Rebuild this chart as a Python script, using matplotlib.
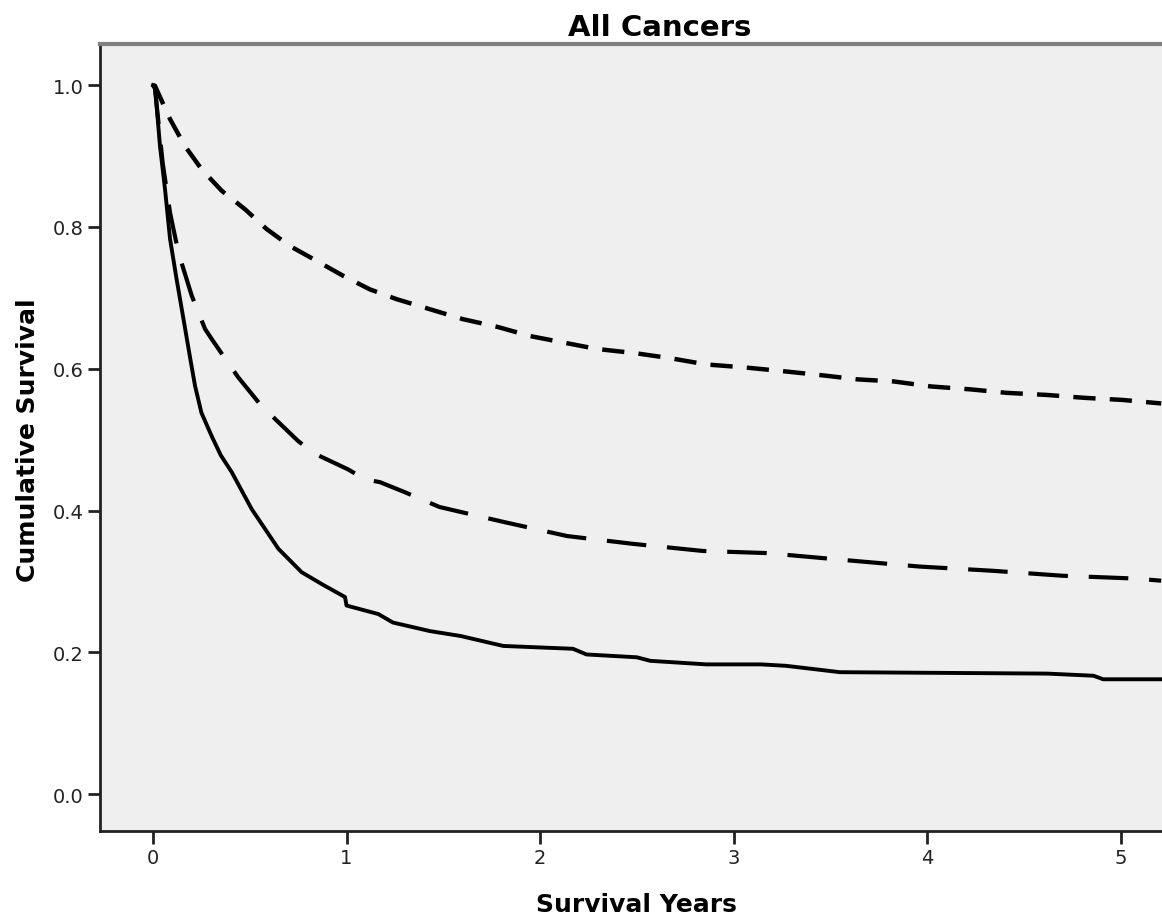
import matplotlib.pyplot as plt

# survival curves (years, cumulative survival)
upper_x = [0.0, 0.01, 0.088, 0.165, 0.252, 0.355, 0.475, 0.587, 0.708, 0.846, 0.983, 1.12, 1.26,
           1.43, 1.60, 1.78, 1.95, 2.12, 2.29, 2.49, 2.67, 2.86, 3.05, 3.24, 3.45, 3.64, 3.83,
           4.02, 4.22, 4.41, 4.62, 4.81, 5.01, 5.21]
upper_y = [1.0, 0.999, 0.952, 0.914, 0.881, 0.851, 0.825, 0.797, 0.773, 0.752, 0.731, 0.712, 0.698,
           0.684, 0.670, 0.659, 0.646, 0.637, 0.628, 0.622, 0.615, 0.606, 0.602, 0.597, 0.591, 0.585,
           0.582, 0.575, 0.571, 0.566, 0.563, 0.559, 0.556, 0.551]

middle_x = [0.0, 0.01, 0.05, 0.088, 0.131, 0.2, 0.269, 0.303, 0.381, 0.44, 0.553, 0.62, 0.75, 0.837,
            1.008, 1.096, 1.173, 1.30, 1.48, 1.81, 2.14, 2.48, 2.84, 3.17, 3.58, 3.96, 4.34, 4.70,
            5.08, 5.21]
middle_y = [1.0, 0.995, 0.89, 0.82, 0.764, 0.703, 0.656, 0.642, 0.611, 0.588, 0.55, 0.532, 0.498, 0.48,
            0.458, 0.444, 0.44, 0.426, 0.405, 0.384, 0.364, 0.353, 0.343, 0.34, 0.33, 0.321, 0.315,
            0.308, 0.304, 0.301]

solid_x = [0.0, 0.01, 0.036, 0.062, 0.088, 0.122, 0.165, 0.19, 0.217, 0.25, 0.303, 0.35, 0.407, 0.51,
           0.648, 0.768, 0.88, 0.992, 1.0, 1.164, 1.24, 1.43, 1.59, 1.81, 2.17, 2.24, 2.5, 2.57, 2.86,
           3.14, 3.27, 3.55, 4.62, 4.86, 4.91, 5.21]
solid_y = [1.0, 0.999, 0.914, 0.853, 0.783, 0.726, 0.658, 0.618, 0.576, 0.538, 0.505, 0.478, 0.454,
           0.402, 0.346, 0.313, 0.295, 0.278, 0.266, 0.254, 0.242, 0.23, 0.223, 0.209, 0.205, 0.197,
           0.193, 0.188, 0.183, 0.183, 0.181, 0.172, 0.170, 0.167, 0.162, 0.162]

x_ticks = [0, 1, 2, 3, 4, 5]
y_ticks = [0.0, 0.2, 0.4, 0.6, 0.8, 1.0]

plt.rcParams['font.family'] = ['DejaVu Sans']

fig = plt.figure(figsize=(11.62, 9.2), dpi=100)
ax = fig.add_axes([100 / 1162, 88 / 920, 1 - 100 / 1162, 787 / 920])
ax.set_facecolor('#efefef')

ax.plot(upper_x, upper_y, color='black', lw=3.2, dashes=(5, 3.2))
ax.plot(middle_x, middle_y, color='black', lw=3.0, dashes=(9.5, 5))
ax.plot(solid_x, solid_y, color='black', lw=2.8)

ax.set_xlim(-0.274, 5.214)
ax.set_ylim(-0.052, 1.058)
ax.set_xticks(x_ticks)
ax.set_xticklabels([str(t) for t in x_ticks])
ax.set_yticks(y_ticks)
ax.set_yticklabels([f"{t:.1f}" for t in y_ticks])
ax.tick_params(direction='out', length=9, width=2, labelsize=14, color='#222222',
               labelcolor='#222222', pad=3)

ax.spines['right'].set_visible(False)
ax.spines['top'].set_color('#7f7f7f')
ax.spines['top'].set_linewidth(3)
ax.spines['left'].set_linewidth(2)
ax.spines['bottom'].set_linewidth(2)
ax.spines['left'].set_color('#222222')
ax.spines['bottom'].set_color('#222222')

fig.text(660 / 1162, 1 - 28 / 920, 'All Cancers', ha='center', va='center',
         fontsize=21, fontweight='bold')
fig.text(636 / 1162, 1 - 905 / 920, 'Survival Years', ha='center', va='center',
         fontsize=18, fontweight='bold')
fig.text(28 / 1162, 1 - 440 / 920, 'Cumulative Survival', ha='center', va='center',
         rotation=90, fontsize=18, fontweight='bold')

fig.savefig('out.png', dpi=100)
